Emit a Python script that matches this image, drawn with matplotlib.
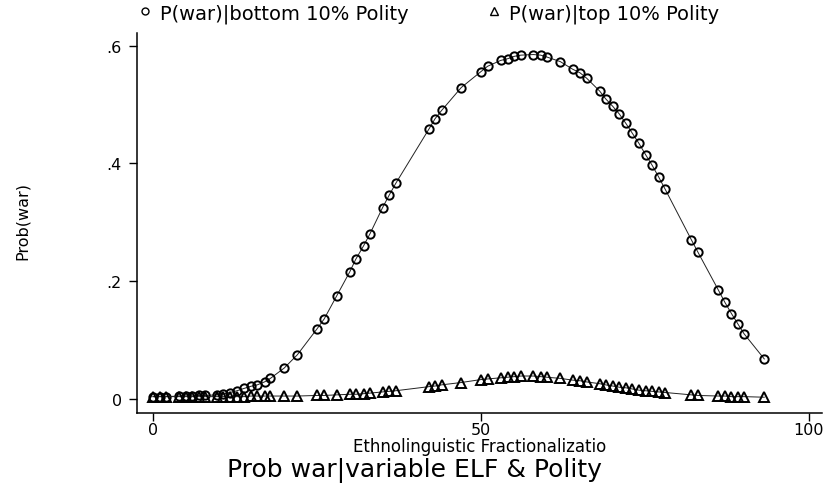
import matplotlib
matplotlib.use("Agg")
import matplotlib.pyplot as plt
from matplotlib.lines import Line2D

# ========== DATA ==========
elf = [0, 1, 2, 4, 5, 6, 7, 8, 9.7, 10.7, 11.7, 12.8, 13.9, 14.9, 15.9, 17.0, 17.9,
       20.0, 22.0, 25.0, 26.1, 28.0, 30.0, 30.9, 32.1, 33.1, 35.0, 36.0, 37.0,
       42.1, 43.0, 44.0, 47.0, 50.0, 51.0, 53.0, 54.1, 55.1, 56.1, 58.0, 59.1,
       60.0, 62.1, 64.0, 65.1, 66.1, 68.1, 69.0, 70.1, 71.1, 72.1, 73.1, 74.1,
       75.1, 76.1, 77.1, 78.1, 82.1, 83.1, 86.2, 87.2, 88.2, 89.2, 90.1, 93.2]

p_bottom = [0.004, 0.004, 0.004, 0.005, 0.005, 0.005, 0.006, 0.006, 0.007, 0.0085,
            0.011, 0.014, 0.018, 0.0215, 0.024, 0.029, 0.035,
            0.0525, 0.075, 0.119, 0.136, 0.175, 0.216, 0.237, 0.260, 0.281,
            0.325, 0.346, 0.366,
            0.459, 0.476, 0.490, 0.529, 0.556, 0.565, 0.575, 0.578, 0.582,
            0.584, 0.585, 0.584, 0.581, 0.573, 0.560, 0.554, 0.545, 0.523,
            0.510, 0.497, 0.484, 0.468, 0.451, 0.434, 0.415, 0.397, 0.377,
            0.356, 0.270, 0.249, 0.185, 0.164, 0.145, 0.127, 0.111, 0.068]

p_top = [0.004, 0.004, 0.004, 0.004, 0.004, 0.004, 0.004, 0.004, 0.004, 0.004,
         0.004, 0.004, 0.004, 0.005, 0.005, 0.005, 0.005,
         0.005, 0.005, 0.006, 0.006, 0.007, 0.008, 0.008, 0.009, 0.010,
         0.012, 0.013, 0.014,
         0.021, 0.022, 0.024, 0.028, 0.033, 0.034, 0.036, 0.037, 0.038,
         0.039, 0.039, 0.038, 0.037, 0.035, 0.032, 0.031, 0.029, 0.026,
         0.024, 0.022, 0.020, 0.019, 0.017, 0.015, 0.014, 0.013, 0.012,
         0.011, 0.007, 0.006, 0.005, 0.005, 0.004, 0.004, 0.004, 0.003]

x_ticks = [0, 50, 100]
y_ticks = [0, 0.2, 0.4, 0.6]
y_tick_labels = ["0", ".2", ".4", ".6"]

label_bottom = "P(war)|bottom 10% Polity"
label_top = "P(war)|top 10% Polity"
x_title = "Ethnolinguistic Fractionalizatio"
y_title = "Prob(war)"
chart_title = "Prob war|variable ELF & Polity"
# ===================================================

W, H = 829, 485
fig = plt.figure(figsize=(W / 100, H / 100), dpi=100)
ax = fig.add_axes([137 / W, 71 / H, 685 / W, 380 / H])

ax.plot(elf, p_bottom, color="#222222", lw=0.7, marker="o", ms=6,
        mfc="none", mec="black", mew=1.4)
ax.plot(elf, p_top, color="#222222", lw=0.7, marker="^", ms=7,
        mfc="none", mec="black", mew=1.4)

ax.set_xlim(-2.44, 102.0)
ax.set_ylim(-0.0238, 0.6216)

for side in ["top", "right"]:
    ax.spines[side].set_visible(False)
for side in ["left", "bottom"]:
    ax.spines[side].set_linewidth(1.1)

ax.set_xticks(x_ticks)
ax.set_yticks(y_ticks)
ax.set_yticklabels(y_tick_labels)
ax.tick_params(direction="out", length=6, width=1.0, labelsize=11.5, colors="black")
ax.tick_params(axis="x", pad=0.5)
ax.tick_params(axis="y", pad=5)

ax.set_xlabel(x_title, fontsize=12, va="baseline")
ax.xaxis.set_label_coords(0.5, -0.1)
ax.set_ylabel(y_title, fontsize=11.5, va="center")
ax.yaxis.set_label_coords(-0.168, 0.508)

fig.text(0.5, 1 - 477 / H, chart_title, fontsize=18, ha="center", va="baseline")

handles = [
    Line2D([], [], ls="none", marker="o", ms=5, mfc="none", mec="black", mew=1.0),
    Line2D([], [], ls="none", marker="^", ms=5.5, mfc="none", mec="black", mew=1.0),
]
fig.legend(handles, [label_bottom, label_top], loc="center left",
           bbox_to_anchor=(139.2 / W, 1 - 14 / H), ncol=2, frameon=False,
           fontsize=14, handlelength=0.6, handletextpad=0.47,
           columnspacing=4.08, borderpad=0, borderaxespad=0)

fig.savefig("out.png", dpi=100)
